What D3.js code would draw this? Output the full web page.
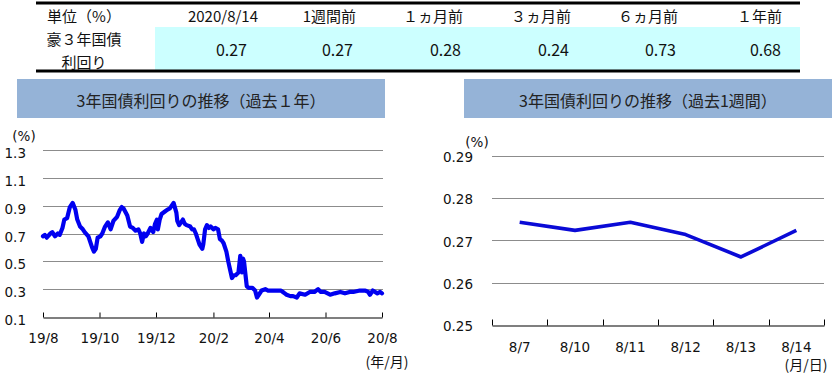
<!DOCTYPE html>
<html>
<head>
<meta charset="utf-8">
<script src="https://cdn.jsdelivr.net/npm/d3@7"></script>
<style>
  html, body { margin: 0; padding: 0; background: #fff; }
  svg { display: block; }
  .tbl { font-family: "Noto Sans CJK JP", sans-serif; font-size: 15px; fill: #111; }
  .tbl-val { font-family: "Noto Sans CJK JP", sans-serif; font-size: 16px; fill: #111; }
  .title { font-family: "Noto Sans CJK JP", sans-serif; font-size: 16px; fill: #222; }
  .axis text, .unit { font-family: "DejaVu Sans", Verdana, sans-serif; font-size: 13.5px; fill: #111; }
  .unit-jp { font-family: "Noto Sans CJK JP", sans-serif; font-size: 14px; fill: #111; }
  .grid-line { stroke: #8c8c8c; stroke-width: 1; }
</style>
</head>
<body>
<svg id="chart" width="832" height="374" viewBox="0 0 832 374"></svg>
<script>
// table
const tableHeaders = ["単位（%）", "2020/8/14", "1週間前", "１ヵ月前", "３ヵ月前", "６ヵ月前", "１年前"];
const tableRowLabel = ["豪３年国債", "利回り"];
const tableValues = [0.27, 0.27, 0.28, 0.24, 0.73, 0.68];

// left chart: past year (daily closes)
const yearDates = [
  "2019-08-14", "2019-08-16", "2019-08-18", "2019-08-22", "2019-08-24", "2019-08-27", "2019-08-30",
  "2019-09-01", "2019-09-04", "2019-09-06", "2019-09-09", "2019-09-12", "2019-09-15", "2019-09-18",
  "2019-09-20", "2019-09-23", "2019-09-26", "2019-09-28", "2019-10-02", "2019-10-04", "2019-10-06",
  "2019-10-08", "2019-10-10", "2019-10-12", "2019-10-15", "2019-10-17", "2019-10-20", "2019-10-23",
  "2019-10-26", "2019-10-29", "2019-11-02", "2019-11-05", "2019-11-07", "2019-11-09", "2019-11-13",
  "2019-11-16", "2019-11-19", "2019-11-22", "2019-11-25", "2019-11-27", "2019-11-29", "2019-12-01",
  "2019-12-03", "2019-12-05", "2019-12-08", "2019-12-11", "2019-12-13", "2019-12-15", "2019-12-16",
  "2019-12-18", "2019-12-20", "2019-12-24", "2019-12-26", "2019-12-29", "2019-12-31", "2020-01-02",
  "2020-01-05", "2020-01-06", "2020-01-08", "2020-01-10", "2020-01-12", "2020-01-14", "2020-01-16",
  "2020-01-20", "2020-01-22", "2020-01-24", "2020-01-26", "2020-01-28", "2020-01-30", "2020-02-02",
  "2020-02-03", "2020-02-05", "2020-02-07", "2020-02-09", "2020-02-11", "2020-02-14", "2020-02-16",
  "2020-02-19", "2020-02-21", "2020-02-23", "2020-02-25", "2020-02-28", "2020-03-01", "2020-03-03",
  "2020-03-05", "2020-03-07", "2020-03-09", "2020-03-12", "2020-03-14", "2020-03-15", "2020-03-16",
  "2020-03-17", "2020-03-18", "2020-03-20", "2020-03-21", "2020-03-23", "2020-03-27", "2020-03-30",
  "2020-04-01", "2020-04-03", "2020-04-06", "2020-04-10", "2020-04-13", "2020-04-17", "2020-04-23",
  "2020-04-27", "2020-04-29", "2020-05-01", "2020-05-03", "2020-05-07", "2020-05-10", "2020-05-14",
  "2020-05-17", "2020-05-23", "2020-05-28", "2020-06-02", "2020-06-06", "2020-06-09", "2020-06-13",
  "2020-06-19", "2020-06-24", "2020-06-30", "2020-07-05", "2020-07-10", "2020-07-14", "2020-07-21",
  "2020-07-27", "2020-07-30", "2020-08-01", "2020-08-04", "2020-08-09", "2020-08-12", "2020-08-14"
];
const yearValues = [
  0.68, 0.69, 0.67, 0.70, 0.71, 0.68, 0.70,
  0.69, 0.74, 0.80, 0.81, 0.89, 0.92, 0.87,
  0.80, 0.75, 0.73, 0.71, 0.68, 0.64, 0.60,
  0.57, 0.59, 0.67, 0.68, 0.70, 0.75, 0.78,
  0.73, 0.79, 0.82, 0.87, 0.89, 0.88, 0.83,
  0.75, 0.74, 0.72, 0.73, 0.70, 0.64, 0.70,
  0.68, 0.70, 0.74, 0.71, 0.77, 0.80, 0.73,
  0.80, 0.84, 0.86, 0.87, 0.88, 0.90, 0.92,
  0.85, 0.79, 0.76, 0.78, 0.80, 0.77, 0.76,
  0.75, 0.73, 0.73, 0.70, 0.66, 0.62, 0.59,
  0.62, 0.73, 0.76, 0.74, 0.75, 0.73, 0.74,
  0.73, 0.66, 0.65, 0.63, 0.57, 0.50, 0.44,
  0.38, 0.40, 0.40, 0.42, 0.54, 0.47, 0.42,
  0.52, 0.50, 0.38, 0.32, 0.31, 0.31, 0.29,
  0.24, 0.26, 0.29, 0.30, 0.29, 0.29, 0.29,
  0.29, 0.28, 0.27, 0.26, 0.25, 0.25, 0.24,
  0.27, 0.26, 0.28, 0.28, 0.30, 0.28, 0.28,
  0.26, 0.27, 0.28, 0.27, 0.28, 0.28, 0.29,
  0.29, 0.28, 0.26, 0.29, 0.27, 0.28, 0.27
];
const yearTickDates = ["2019-08-14", "2019-10-14", "2019-12-14", "2020-02-14", "2020-04-14", "2020-06-14", "2020-08-14"];
const yearTickLabels = ["19/8", "19/10", "19/12", "20/2", "20/4", "20/6", "20/8"];
const yearYTicks = [0.1, 0.3, 0.5, 0.7, 0.9, 1.1, 1.3];

// right chart: past week
const weekDays = ["8/7", "8/10", "8/11", "8/12", "8/13", "8/14"];
const weekValues = [0.2743, 0.2724, 0.2743, 0.2714, 0.2661, 0.2724];
const weekYTicks = [0.25, 0.26, 0.27, 0.28, 0.29];

const svg = d3.select("#chart");
const parseDate = d3.timeParse("%Y-%m-%d");

// ---- table ----
const tableLeft = 36, tableRight = 800, labelColRight = 155;
const headerRights = [258, 356, 463, 571, 678, 782];
const valueRights = [247, 353, 461, 569, 676, 781];

svg.append("rect")
  .attr("x", labelColRight).attr("y", 27)
  .attr("width", tableRight - labelColRight).attr("height", 43)
  .attr("fill", "#ccffff");

svg.append("line")
  .attr("x1", tableLeft).attr("x2", tableRight)
  .attr("y1", 3).attr("y2", 3)
  .attr("stroke", "#000").attr("stroke-width", 3);
svg.append("line")
  .attr("x1", tableLeft).attr("x2", tableRight)
  .attr("y1", 71).attr("y2", 71)
  .attr("stroke", "#000").attr("stroke-width", 3);

svg.append("text").attr("class", "tbl")
  .attr("x", 84).attr("y", 15)
  .attr("text-anchor", "middle").attr("dominant-baseline", "central")
  .text(tableHeaders[0]);

svg.append("g").selectAll("text")
  .data(tableHeaders.slice(1))
  .join("text")
  .attr("class", "tbl")
  .attr("x", (_d, i) => headerRights[i])
  .attr("y", 15)
  .attr("text-anchor", "end")
  .attr("dominant-baseline", "central")
  .text(d => d);

svg.append("g").selectAll("text")
  .data(tableRowLabel)
  .join("text")
  .attr("class", "tbl")
  .attr("x", 84)
  .attr("y", (_d, i) => 38 + i * 23)
  .attr("text-anchor", "middle")
  .attr("dominant-baseline", "central")
  .text(d => d);

svg.append("g").selectAll("text")
  .data(tableValues)
  .join("text")
  .attr("class", "tbl-val")
  .attr("x", (_d, i) => valueRights[i])
  .attr("y", 49)
  .attr("text-anchor", "end")
  .attr("dominant-baseline", "central")
  .text(d => d.toFixed(2));

// ---- banners ----
function addBanner(x, w, text) {
  svg.append("rect")
    .attr("x", x).attr("y", 79)
    .attr("width", w).attr("height", 39)
    .attr("fill", "#95b3d7");
  svg.append("text").attr("class", "title")
    .attr("x", x + w / 2).attr("y", 100)
    .attr("text-anchor", "middle").attr("dominant-baseline", "central")
    .text(text);
}
addBanner(17, 368, "3年国債利回りの推移（過去１年）");
addBanner(464, 368, "3年国債利回りの推移（過去1週間）");

// ---- left chart ----
const yearPoints = yearDates.map((d, i) => ({ x: parseDate(d), y: yearValues[i] }));
const xYear = d3.scaleTime()
  .domain([parseDate(yearTickDates[0]), parseDate(yearTickDates[yearTickDates.length - 1])])
  .range([43, 382]);
const yYear = d3.scaleLinear().domain([0.1, 1.3]).range([317, 150]);

svg.append("g")
  .selectAll("line")
  .data(yearYTicks.slice(1))
  .join("line")
  .attr("class", "grid-line")
  .attr("x1", 43).attr("x2", 383)
  .attr("y1", d => Math.round(yYear(d)) + 0.5)
  .attr("y2", d => Math.round(yYear(d)) + 0.5);

const yearXAxis = svg.append("g")
  .attr("class", "axis")
  .attr("transform", `translate(0, ${Math.round(yYear(0.1)) + 0.5})`)
  .call(d3.axisBottom(xYear)
    .tickValues(yearTickDates.map(parseDate))
    .tickFormat((_d, i) => yearTickLabels[i])
    .tickSizeInner(-5)
    .tickSizeOuter(0));
yearXAxis.select(".domain").attr("stroke", "#000").attr("stroke-width", 1.2);
yearXAxis.selectAll(".tick line").attr("stroke", "#000");
yearXAxis.selectAll(".tick text").attr("y", 21).attr("dy", "0.35em");

svg.append("g")
  .attr("class", "axis")
  .selectAll("text")
  .data(yearYTicks)
  .join("text")
  .attr("x", 26)
  .attr("y", d => yYear(d) + 3)
  .attr("text-anchor", "end")
  .attr("dominant-baseline", "central")
  .text(d => d.toFixed(1));

svg.append("text").attr("class", "unit")
  .attr("x", 24).attr("y", 136)
  .attr("text-anchor", "middle").attr("dominant-baseline", "central")
  .text("(%)");
svg.append("text").attr("class", "unit-jp")
  .attr("x", 387).attr("y", 361)
  .attr("text-anchor", "middle").attr("dominant-baseline", "central")
  .text("(年/月)");

const yearLine = d3.line()
  .x(p => xYear(p.x))
  .y(p => yYear(p.y));
svg.append("path")
  .attr("d", yearLine(yearPoints))
  .attr("fill", "none")
  .attr("stroke", "#0000f0")
  .attr("stroke-width", 4.2)
  .attr("stroke-linejoin", "round")
  .attr("stroke-linecap", "round");

// ---- right chart ----
const xWeek = d3.scaleBand().domain(weekDays).range([492, 824]);
const yWeek = d3.scaleLinear().domain([0.25, 0.29]).range([325, 156]);

svg.append("g")
  .selectAll("line")
  .data(weekYTicks.slice(1))
  .join("line")
  .attr("class", "grid-line")
  .attr("x1", 492).attr("x2", 824)
  .attr("y1", d => Math.round(yWeek(d)) + 0.5)
  .attr("y2", d => Math.round(yWeek(d)) + 0.5);

const weekAxisY = Math.round(yWeek(0.25)) + 0.5;
const weekXAxis = svg.append("g")
  .attr("class", "axis")
  .attr("transform", `translate(0, ${weekAxisY})`)
  .call(d3.axisBottom(xWeek).tickSize(0).tickSizeOuter(0));
weekXAxis.select(".domain").attr("stroke", "#000").attr("stroke-width", 1.2);
weekXAxis.selectAll(".tick text").attr("y", 22).attr("dy", "0.35em");

const weekBoundaries = weekDays.map(d => xWeek(d)).concat([xWeek.range()[1]]);
svg.append("g")
  .selectAll("line")
  .data(weekBoundaries)
  .join("line")
  .attr("x1", d => Math.round(d) + 0.5)
  .attr("x2", d => Math.round(d) + 0.5)
  .attr("y1", weekAxisY)
  .attr("y2", weekAxisY - 6)
  .attr("stroke", "#000");

svg.append("g")
  .attr("class", "axis")
  .selectAll("text")
  .data(weekYTicks)
  .join("text")
  .attr("x", 473)
  .attr("y", d => yWeek(d) + 1)
  .attr("text-anchor", "end")
  .attr("dominant-baseline", "central")
  .text(d => d.toFixed(2));

svg.append("text").attr("class", "unit")
  .attr("x", 477).attr("y", 142)
  .attr("text-anchor", "middle").attr("dominant-baseline", "central")
  .text("(%)");
svg.append("text").attr("class", "unit-jp")
  .attr("x", 806).attr("y", 364)
  .attr("text-anchor", "middle").attr("dominant-baseline", "central")
  .text("(月/日)");

const weekLine = d3.line()
  .x(d => xWeek(d) + xWeek.bandwidth() / 2)
  .y((_d, i) => yWeek(weekValues[i]));
svg.append("path")
  .attr("d", weekLine(weekDays))
  .attr("fill", "none")
  .attr("stroke", "#0a0ad6")
  .attr("stroke-width", 3.6)
  .attr("stroke-linejoin", "round");
</script>
</body>
</html>
